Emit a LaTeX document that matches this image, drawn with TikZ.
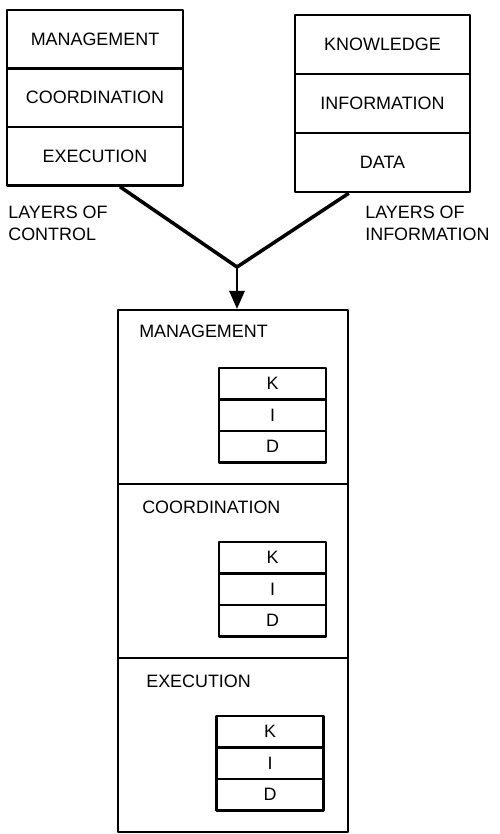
\documentclass[tikz,border=0pt]{standalone}
\usepackage{fontspec}
\setmainfont{Liberation Sans}
\usetikzlibrary{calc,arrows.meta}
\tikzset{ layer/.style = { rectangle % control / information layer
        , draw
        , line width = 1.4pt
        , minimum width = 3.52cm
        , minimum height = 1.17cm
        , inner sep = 0pt
        , font = \fontsize{10.2}{12}\selectfont
        }
        , section/.style = { rectangle % section of the combined model
        , draw
        , line width = 1.2pt
        , minimum width = 4.6cm
        , minimum height = 3.48cm
        }
        , kid/.style = { rectangle % K / I / D cell
        , draw
        , line width = 1.2pt
        , minimum width = 2.14cm
        , minimum height = 0.63cm
        , inner sep = 0pt
        , font = \fontsize{10.2}{12}\selectfont
        }
        , caption/.style = { align = left % free text
        , inner sep = 0pt
        , font = \fontsize{10.2}{12.5}\selectfont
        }
        }

\begin{document}
\begin{tikzpicture}[line join=round,
        edge_style/.style={draw=black, line width=2pt},
        arrow_style/.style={draw=black, line width=1.6pt, -{Triangle[length=3.6mm,width=3mm]}}]
        \useasboundingbox (0,0) rectangle (9.98,-16.68);

        \node [layer](c1) at (1.90,-0.785) {MANAGEMENT};
        \node [layer](c2) at (1.90,-1.955) {COORDINATION};
        \node [layer](c3) at (1.90,-3.125) {EXECUTION};
        \node [layer,minimum width=3.5cm,minimum height=1.18cm](i1) at (7.65,-0.89) {KNOWLEDGE};
        \node [layer,minimum width=3.5cm,minimum height=1.18cm](i2) at (7.65,-2.07) {INFORMATION};
        \node [layer,minimum width=3.5cm,minimum height=1.18cm](i3) at (7.65,-3.25) {DATA};
        \node [caption,anchor=north west](lc) at (0.16,-4.12) {LAYERS OF\\CONTROL};
        \node [caption,anchor=north west](li) at (7.30,-4.12) {LAYERS OF\\INFORMATION};

        \coordinate (junc) at (4.74,-5.34);
        \node [section](s1) at (4.66,-7.94) {};
        \node [section](s2) at (4.66,-11.42) {};
        \node [section](s3) at (4.66,-14.90) {};
        \node [caption,anchor=west](t1) at ($(s1.north west)+(0.44,-0.44)$) {MANAGEMENT};
        \node [caption,anchor=west](t2) at ($(s2.north west)+(0.50,-0.48)$) {COORDINATION};
        \node [caption,anchor=west](t3) at ($(s3.north west)+(0.58,-0.48)$) {EXECUTION};

        \node [kid](k1) at (5.45,-7.675) {K};
        \node [kid](n1) at (5.45,-8.305) {I};
        \node [kid](d1) at (5.45,-8.935) {D};
        \node [kid](k2) at (5.45,-11.155) {K};
        \node [kid](n2) at (5.45,-11.785) {I};
        \node [kid](d2) at (5.45,-12.415) {D};
        \node [kid](k3) at (5.40,-14.635) {K};
        \node [kid](n3) at (5.40,-15.265) {I};
        \node [kid](d3) at (5.40,-15.895) {D};

        \draw [edge_style] ($(c3.south west)!0.64!(c3.south east)$) -- (junc);
        \draw [edge_style] ($(i3.south west)!0.31!(i3.south east)$) -- (junc);
        \draw [arrow_style] (junc) -- (junc |- s1.north);
\end{tikzpicture}
\end{document}
